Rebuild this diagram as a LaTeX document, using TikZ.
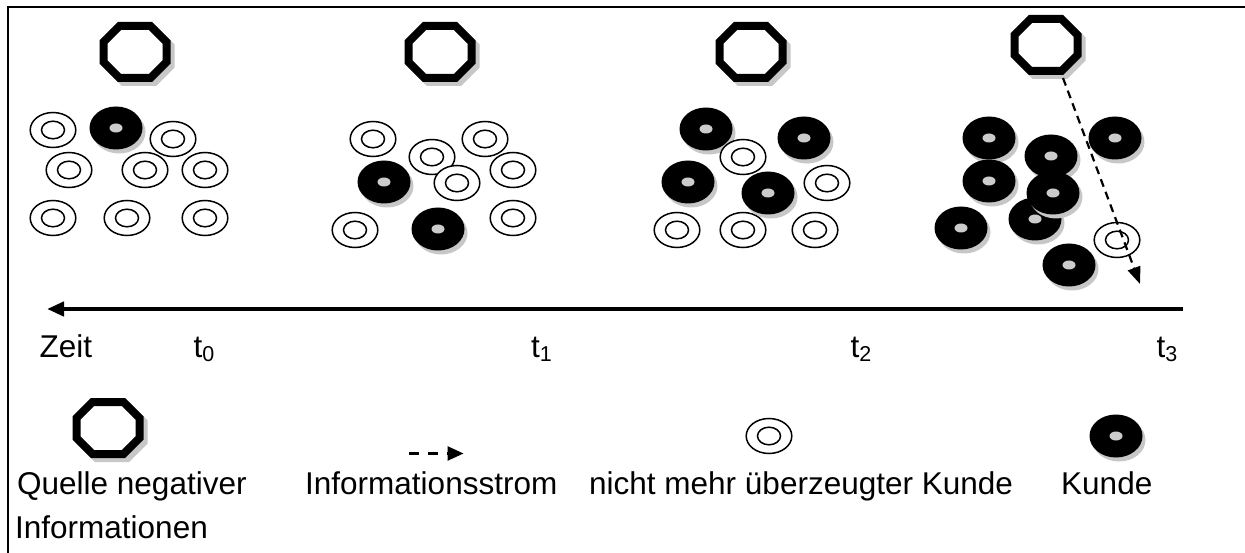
\documentclass[tikz,border=0pt]{standalone}
\usepackage{fontspec}
\setmainfont{Liberation Sans}
\usetikzlibrary{arrows.meta}
\definecolor{shadowgray}{gray}{0.78}
\definecolor{holegray}{gray}{0.80}
\newcommand\tsub[1]{t\raisebox{-4.5pt}{\fontsize{21.5pt}{21.5pt}\selectfont #1}}
\tikzset{
  lbl/.style={font=\fontsize{31.5pt}{44pt}\selectfont, inner sep=0pt, anchor=base west},
  octpath/.style={line width=8pt, miter limit=10, line join=miter},
  octa/.pic={
    \draw[octpath, shadowgray, shift={(4,4)}]
      (-31.5,-10) -- (-15.5,-26) -- (15.5,-26) -- (31.5,-10) -- (31.5,10) -- (15.5,26) -- (-15.5,26) -- (-31.5,10) -- cycle;
    \draw[octpath, black, fill=white]
      (-31.5,-10) -- (-15.5,-26) -- (15.5,-26) -- (31.5,-10) -- (31.5,10) -- (15.5,26) -- (-15.5,26) -- (-31.5,10) -- cycle;
  },
  wring/.pic={
    \draw[line width=1.5pt, fill=white] (0,0) ellipse [x radius=22.8pt, y radius=17.5pt];
    \draw[line width=1.5pt] (0,0) ellipse [x radius=11.5pt, y radius=8.8pt];
  },
  bring/.pic={
    \fill[shadowgray] (3,4) ellipse [x radius=26.5pt, y radius=21.5pt];
    \fill[black] (0,0) ellipse [x radius=26.5pt, y radius=21.5pt];
    \fill[holegray] (0,0) ellipse [x radius=6.5pt, y radius=4.5pt];
  },
  flow/.style={line width=2.2pt, dash pattern=on 8pt off 5.5pt, -{Triangle[length=17pt,width=13pt]}},
  timeaxis/.style={line width=4.5pt, -{Triangle[length=17pt,width=14pt]}}
}
\begin{document}
\begin{tikzpicture}[x=1pt,y=-1pt]
\useasboundingbox (0,0) rectangle (1245,553);
\fill[white] (0,0) rectangle (1245,553);
% frame
\draw[line width=2.5pt] (8,553) -- (8,7) -- (1245,7);

% sources
\pic (q0) at (135,52) {octa};
\pic (q1) at (440,52) {octa};
\pic (q2) at (751,52) {octa};
\pic (q3) at (1046,45) {octa};

% group t0
\pic (a1) at (116,128) {bring};
\pic (a2) at (53,130) {wring};
\pic (a3) at (173,139) {wring};
\pic (a4) at (69,170) {wring};
\pic (a5) at (145,170) {wring};
\pic (a6) at (205,170) {wring};
\pic (a7) at (53,218) {wring};
\pic (a8) at (127,218) {wring};
\pic (a9) at (205,218) {wring};

% group t1
\pic (b1) at (373,139) {wring};
\pic (b2) at (485,139) {wring};
\pic (b3) at (432,157) {wring};
\pic (b4) at (384,182) {bring};
\pic (b5) at (457,183) {wring};
\pic (b6) at (513,170) {wring};
\pic (b7) at (355,230) {wring};
\pic (b8) at (438,229) {bring};
\pic (b9) at (513,218) {wring};

% group t2
\pic (c1) at (677,230) {wring};
\pic (c2) at (743,230) {wring};
\pic (c3) at (815,230) {wring};
\pic (c4) at (706,129) {bring};
\pic (c5) at (743,157) {wring};
\pic (c6) at (804,138) {bring};
\pic (c7) at (688,182) {bring};
\pic (c8) at (768,193) {bring};
\pic (c9) at (827,183) {wring};

% group t3
\pic (d1) at (989,138) {bring};
\pic (d2) at (989,181) {bring};
\pic (d3) at (1115,138) {bring};
\pic (d4) at (1051,156) {bring};
\pic (d5) at (1035,219) {bring};
\pic (d6) at (1053,193) {bring};
\pic (d7) at (961,228) {bring};
\pic (d8) at (1069,265) {bring};
\pic (d9) at (1117,240) {wring};

% information flow
\coordinate (src) at (1063,78);
\coordinate (dst) at (1140,284);
\draw[flow] (src) -- (dst);

% time axis
\coordinate (axR) at (1183,309);
\coordinate (axL) at (47,309);
\draw[timeaxis] (axR) -- (axL);

\node[lbl] (zeit) at (39.5,357) {Zeit};
\node[lbl] (t0) at (193.5,357) {\tsub{0}};
\node[lbl] (t1) at (531,357) {\tsub{1}};
\node[lbl] (t2) at (850.5,357) {\tsub{2}};
\node[lbl] (t3) at (1156.5,357) {\tsub{3}};

% legend
\pic (lq) at (108,428) {octa};
\coordinate (lfa) at (409,453.5);
\coordinate (lfb) at (463.5,453.5);
\draw[flow, line width=2.6pt, dash pattern=on 10pt off 9pt, -{Triangle[length=16pt,width=14pt]}] (lfa) -- (lfb);
\pic (lw) at (769,436) {wring};
\pic (lb) at (1116,436) {bring};

\node[lbl] (lq1) at (17,494) {Quelle negativer};
\node[lbl] (lq2) at (15,538) {Informationen};
\node[lbl] (lf) at (305,494) {Informationsstrom};
\node[lbl] (lw1) at (589,494) {nicht mehr überzeugter Kunde};
\node[lbl] (lb1) at (1061,494) {Kunde};
\end{tikzpicture}
\end{document}
